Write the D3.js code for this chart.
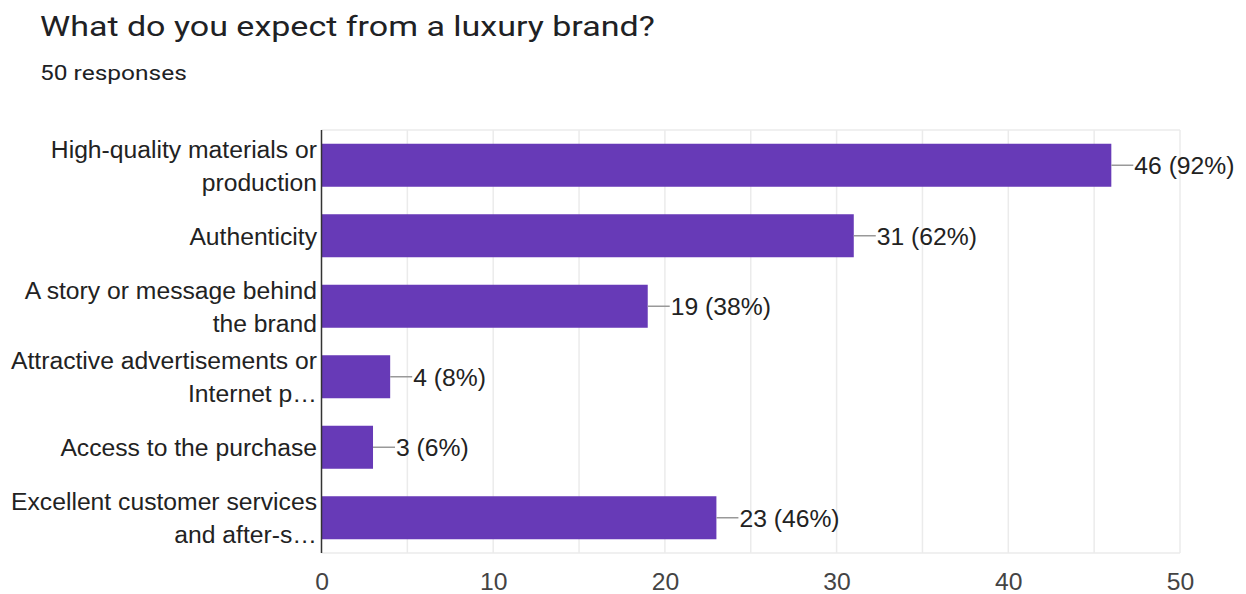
<!DOCTYPE html>
<html>
<head>
<meta charset="utf-8">
<script src="https://cdn.jsdelivr.net/npm/d3@7"></script>
<style>
  html, body { margin: 0; padding: 0; background: #fff; }
  svg { display: block; }
</style>
</head>
<body>
<svg id="chart" width="1246" height="594"></svg>
<script>
// Survey answers: each category may wrap onto two lines
const categories = [
  ["High-quality materials or", "production"],
  ["Authenticity"],
  ["A story or message behind", "the brand"],
  ["Attractive advertisements or", "Internet p\u2026"],
  ["Access to the purchase"],
  ["Excellent customer services", "and after-s\u2026"]
];
const counts = [46, 31, 19, 4, 3, 23];
const totalResponses = 50;
const xTicks = [0, 10, 20, 30, 40, 50];
const gridValues = [5, 10, 15, 20, 25, 30, 35, 40, 45, 50];

const title = "What do you expect from a luxury brand?";
const subtitle = totalResponses + " responses";

(function () {
  const svg = d3.select("#chart");
  const headFont = "Roboto, 'Open Sans', sans-serif";
  const font = "'Liberation Sans', Arial, sans-serif";
  const fs = 24.7;

  const plotLeft = 321.5, plotRight = 1180, plotTop = 130, plotBottom = 553;

  const x = d3.scaleLinear().domain([0, 50]).range([plotLeft, plotRight]);
  const y = d3.scaleBand()
    .domain(d3.range(categories.length))
    .range([plotTop, plotBottom])
    .paddingInner(0.39)
    .paddingOuter(0.195);

  // Heading text drawn with a wide face: stretch horizontally to its set width
  function heading(str, px, baseline, size, width) {
    const t = svg.append("text")
      .attr("x", 0).attr("y", 0)
      .attr("font-family", headFont).attr("font-size", size)
      .attr("fill", "#202124")
      .text(str);
    const natural = t.node().getComputedTextLength();
    const sx = natural > 0 ? width / natural : 1;
    t.attr("transform", `translate(${px},${baseline}) scale(${sx},1)`);
  }
  heading(title, 40, 36, 28, 615);
  heading(subtitle, 40, 80, 21, 147);

  // Vertical gridlines and frame
  svg.append("g").selectAll("line")
    .data(gridValues)
    .join("line")
    .attr("x1", d => x(d)).attr("x2", d => x(d))
    .attr("y1", plotTop).attr("y2", plotBottom)
    .attr("stroke", "#ebebeb").attr("stroke-width", 1.5);
  [plotTop, plotBottom].forEach(yy => {
    svg.append("line")
      .attr("x1", plotLeft).attr("x2", plotRight)
      .attr("y1", yy).attr("y2", yy)
      .attr("stroke", "#ebebeb").attr("stroke-width", 1.5);
  });

  // Bars
  svg.append("g").selectAll("rect")
    .data(counts)
    .join("rect")
    .attr("x", x(0))
    .attr("y", (d, i) => y(i))
    .attr("width", d => x(d) - x(0))
    .attr("height", y.bandwidth())
    .attr("fill", "#673ab7");

  // Leader lines and value labels
  const valueG = svg.append("g");
  counts.forEach((d, i) => {
    const cy = y(i) + y.bandwidth() / 2;
    valueG.append("line")
      .attr("x1", x(d)).attr("x2", x(d) + 22)
      .attr("y1", cy).attr("y2", cy)
      .attr("stroke", "#999").attr("stroke-width", 1.5);
    valueG.append("text")
      .attr("x", x(d) + 23).attr("y", cy)
      .attr("dy", "0.37em")
      .attr("font-family", font).attr("font-size", fs)
      .attr("fill", "#222")
      .text(`${d} (${Math.round(d / totalResponses * 100)}%)`);
  });

  // Category labels
  const labelG = svg.append("g");
  categories.forEach((lines, i) => {
    const cy = y(i) + y.bandwidth() / 2;
    const lh = 33;
    const t = labelG.append("text")
      .attr("text-anchor", "end")
      .attr("font-family", font).attr("font-size", fs)
      .attr("fill", "#222");
    lines.forEach((ln, j) => {
      t.append("tspan")
        .attr("x", plotLeft - 4.5)
        .attr("y", cy + (j - (lines.length - 1) / 2) * lh)
        .attr("dy", "0.37em")
        .text(ln);
    });
  });

  // Category axis line
  svg.append("line")
    .attr("x1", plotLeft).attr("x2", plotLeft)
    .attr("y1", plotTop).attr("y2", plotBottom)
    .attr("stroke", "#333").attr("stroke-width", 1.5);

  // X axis tick labels
  const xAxis = d3.axisBottom(x).tickValues(xTicks).tickSize(0).tickPadding(19);
  const ax = svg.append("g")
    .attr("transform", `translate(0,${plotBottom})`)
    .call(xAxis);
  ax.select(".domain").remove();
  ax.selectAll("text")
    .attr("font-family", font).attr("font-size", fs)
    .attr("fill", "#444");
})();
</script>
</body>
</html>
